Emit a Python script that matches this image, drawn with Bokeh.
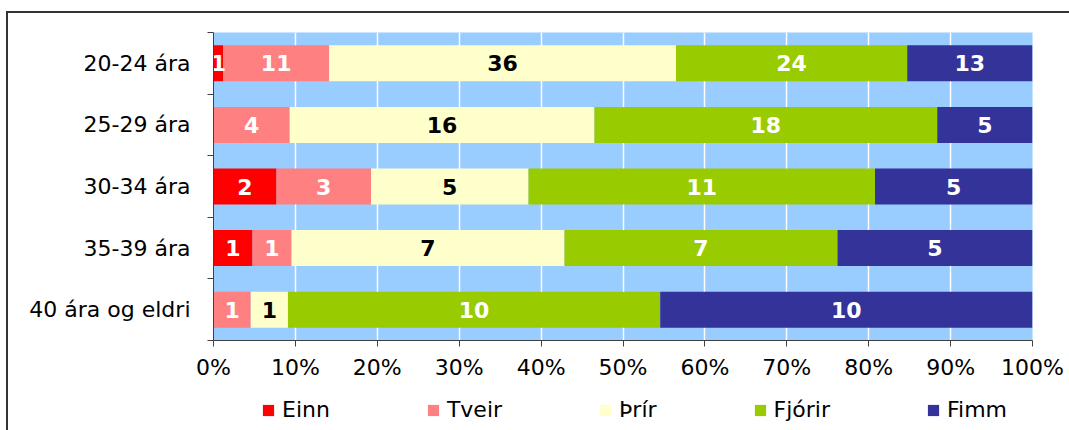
import pandas as pd
from bokeh.plotting import figure
from bokeh.layouts import column
from bokeh.models import (ColumnDataSource, FixedTicker, NumeralTickFormatter, Legend,
                          LegendItem, Range1d)
from bokeh.core.properties import value
from bokeh.embed import file_html
from bokeh.resources import INLINE

categories = ["20-24 ára", "25-29 ára", "30-34 ára", "35-39 ára", "40 ára og eldri"]
series = ["Einn", "Tveir", "Þrír", "Fjórir", "Fimm"]
einn = [1, 0, 2, 1, 0]
tveir = [11, 4, 3, 1, 1]
thrir = [36, 16, 5, 7, 1]
fjorir = [24, 18, 11, 7, 10]
fimm = [13, 5, 5, 5, 10]
colors = ["#FF0000", "#FF8080", "#FFFFCC", "#99CC00", "#333399"]
label_colors = ["#FFFFFF", "#FFFFFF", "#000000", "#FFFFFF", "#FFFFFF"]
x_ticks = [0.0, 0.1, 0.2, 0.3, 0.4, 0.5, 0.6, 0.7, 0.8, 0.9, 1.0]

FONT = "DejaVu Sans"

counts = pd.DataFrame({"Einn": einn, "Tveir": tveir, "Þrír": thrir, "Fjórir": fjorir, "Fimm": fimm})
totals = counts.sum(axis=1)
frac = counts.div(totals, axis=0)
n = len(categories)
ypos = [n - i - 0.5 for i in range(n)]

data = {"y": ypos}
for s in series:
    data[s] = list(frac[s])
src = ColumnDataSource(data)

p = figure(width=1061, height=372, output_backend="svg", toolbar_location=None,
           x_range=Range1d(0, 1), y_range=Range1d(0, n),
           min_border_left=205, min_border_right=37, min_border_top=19, min_border_bottom=45,
           background_fill_color="#99CCFF", border_fill_color="white", outline_line_color=None)

renderers = p.hbar_stack(series, y="y", height=0.585, color=colors, line_color=None, source=src)

# value labels
cum = frac.cumsum(axis=1)
for k, s in enumerate(series):
    mids = cum[s] - frac[s] / 2
    rows = [i for i in range(n) if counts[s][i] > 0]
    lsrc = ColumnDataSource({
        "x": [mids[i] for i in rows],
        "y": [ypos[i] for i in rows],
        "t": [str(counts[s][i]) for i in rows],
    })
    p.text(x="x", y="y", text="t", source=lsrc, text_font=value(FONT), text_font_style="bold",
           text_font_size="22px", text_color=label_colors[k], text_align="center",
           text_baseline="middle")

# y axis
yax = p.yaxis[0]
yax.ticker = FixedTicker(ticks=ypos, minor_ticks=list(range(n + 1)))
yax.major_label_overrides = {ypos[i]: categories[i] for i in range(n)}
yax.major_tick_line_color = None
yax.minor_tick_in = 0
yax.minor_tick_out = 6
yax.minor_tick_line_color = "#404040"
yax.axis_line_color = "#404040"
yax.major_label_text_font = FONT
yax.major_label_text_font_size = "22px"
yax.major_label_text_color = "#000000"
yax.major_label_standoff = 17

# x axis
xax = p.xaxis[0]
xax.ticker = FixedTicker(ticks=x_ticks)
xax.formatter = NumeralTickFormatter(format="0%")
xax.major_tick_in = 0
xax.major_tick_out = 6
xax.major_tick_line_color = "#404040"
xax.minor_tick_line_color = None
xax.axis_line_color = "#404040"
xax.major_label_text_font = FONT
xax.major_label_text_font_size = "22px"
xax.major_label_text_color = "#000000"
xax.major_label_standoff = 8

p.xgrid.ticker = FixedTicker(ticks=x_ticks)
p.xgrid.grid_line_color = "white"
p.xgrid.grid_line_width = 1.5
p.ygrid.grid_line_color = None

# legend strip (separate canvas so the legend is not clipped)
lg = figure(width=1061, height=45, output_backend="svg", toolbar_location=None,
            x_range=Range1d(0, 1), y_range=Range1d(100, 101),
            x_axis_location=None, y_axis_location=None,
            min_border=0, min_border_left=0, min_border_right=0, min_border_top=0, min_border_bottom=0,
            background_fill_color="white", border_fill_color="white", outline_line_color=None)
lg.xgrid.grid_line_color = None
lg.ygrid.grid_line_color = None
lrend = lg.hbar_stack(series, y="y", height=0.585, color=colors, line_color=None, source=src)

legend = Legend(items=[LegendItem(label=s, renderers=[lrend[k]]) for k, s in enumerate(series)],
                orientation="horizontal", location=(48, 8),
                glyph_width=14, glyph_height=14, label_standoff=7, spacing=96,
                padding=0, margin=0, border_line_color=None, background_fill_alpha=0,
                label_text_font=FONT, label_text_font_size="22px", label_text_color="#000000")
lg.add_layout(legend, "center")

layout = column(p, lg, spacing=0)
layout.styles = {"margin-left": "6px", "margin-top": "11px",
                 "border-left": "2px solid #333333", "border-top": "2px solid #333333"}

open("out.html", "w").write(file_html(layout, INLINE))
